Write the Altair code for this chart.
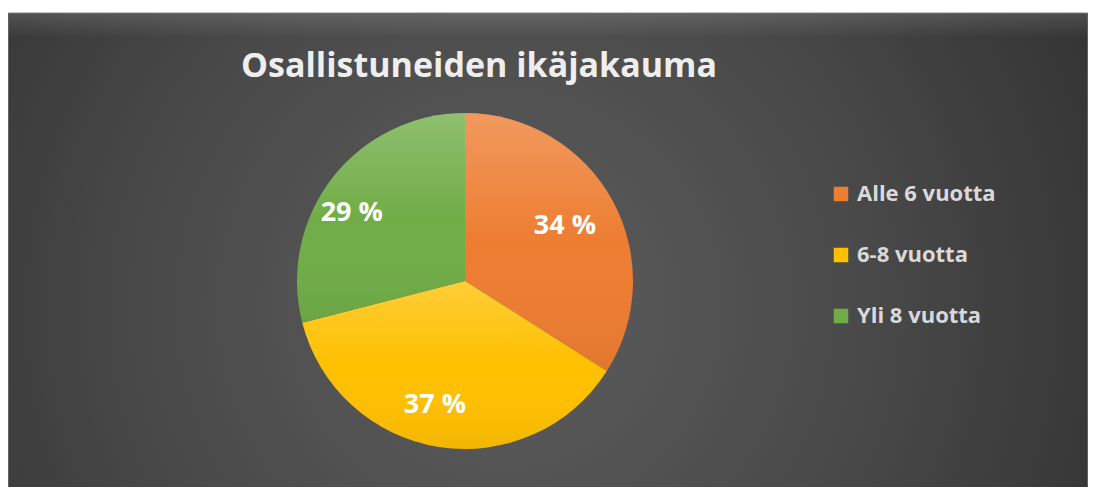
import altair as alt
import pandas as pd

# ---- data ----
categories = ["Alle 6 vuotta", "6-8 vuotta", "Yli 8 vuotta"]
shares = [34, 37, 29]
colors = ["#ED7D31", "#FFC000", "#70AD47"]
title_text = "Osallistuneiden ikäjakauma"

df = pd.DataFrame({
    "category": categories,
    "share": shares,
    "idx": list(range(len(categories))),
    "label": [f"{v} %" for v in shares],
})

W, H = 1080, 479
CX, CY = 457, 273
R = 168
FONT = "Open Sans"

# background panel with radial gradient
bg = alt.Chart(pd.DataFrame({"a": [0]})).mark_rect(
    fill=alt.RadialGradient(
        gradient="radial", x1=0.46, y1=0.55, r1=0, x2=0.46, y2=0.55, r2=0.72,
        stops=[alt.GradientStop(color="#5d5d5d", offset=0),
               alt.GradientStop(color="#4a4a4a", offset=0.45),
               alt.GradientStop(color="#2b2b2b", offset=1)]),
    stroke="#8a8a8a", strokeWidth=1,
).encode(x=alt.value(0), x2=alt.value(W), y=alt.value(5), y2=alt.value(H + 5))

# subtle bevel highlight along the top edge
bevel = alt.Chart(pd.DataFrame({"a": [0]})).mark_rect(
    fill=alt.LinearGradient(
        gradient="linear", x1=0, y1=0, x2=0, y2=1,
        stops=[alt.GradientStop(color="rgba(255,255,255,0.12)", offset=0),
               alt.GradientStop(color="rgba(255,255,255,0.0)", offset=1)]),
).encode(x=alt.value(1), x2=alt.value(W - 1), y=alt.value(6), y2=alt.value(30))

theta = alt.Theta("share:Q", stack=True)
order = alt.Order("idx:Q", sort="ascending")

arcs = alt.Chart(df).mark_arc(radius=R, strokeWidth=0).encode(
    theta=theta,
    order=order,
    color=alt.Color(
        "category:N",
        sort=categories,
        scale=alt.Scale(domain=categories, range=colors),
        legend=alt.Legend(
            title=None, orient="none", legendX=822, legendY=175,
            symbolType="square", symbolSize=210, symbolStrokeWidth=0,
            labelFont=FONT, labelFontSize=22, labelFontWeight="bold",
            labelColor="#d9d9d9", labelOffset=5, rowPadding=39, padding=0,
        ),
    ),
    x=alt.value(CX), y=alt.value(CY),
)

shine = alt.Chart(df).mark_arc(
    radius=R, strokeWidth=0,
    fill=alt.LinearGradient(
        gradient="linear", x1=0, y1=0, x2=0, y2=1,
        stops=[alt.GradientStop(color="rgba(255,255,255,0.22)", offset=0),
               alt.GradientStop(color="rgba(255,255,255,0.0)", offset=0.5),
               alt.GradientStop(color="rgba(0,0,0,0.05)", offset=1)]),
).encode(theta=theta, order=order, x=alt.value(CX), y=alt.value(CY))

label_base = alt.Chart(df).transform_joinaggregate(
    total="sum(share)"
).transform_window(
    cum="sum(share)", sort=[alt.SortField("idx")], frame=[None, 0]
).transform_calculate(
    mid="(datum.cum - datum.share / 2) / datum.total * 2 * PI"
)

placement = {
    "Alle 6 vuotta": (114, 0.0),
    "6-8 vuotta": (128, 0.08),
    "Yli 8 vuotta": (132, -0.12),
}

label_layers = []
for cat in categories:
    rad, off = placement[cat]
    label_layers.append(
        label_base.transform_filter(alt.datum.category == cat).mark_text(
            radius=rad, thetaOffset=off, font=FONT, fontSize=27,
            fontWeight="bold", color="#ffffff", align="center", baseline="middle",
        ).encode(
            theta=alt.Theta("mid:Q", scale=None, stack=False),
            text="label:N",
            x=alt.value(CX), y=alt.value(CY),
        )
    )

chart = alt.layer(bg, bevel, arcs, shine, *label_layers).properties(
    width=W, height=H,
    autosize=alt.AutoSizeParams(type="none"),
    padding=0,
    background="white",
    title=alt.TitleParams(
        text=title_text, anchor="middle", frame="group", dx=-69, dy=103,
        offset=0, baseline="alphabetic", font=FONT, fontSize=34,
        fontWeight="bold", color="#eeeeee",
    ),
).configure_view(strokeWidth=0)

chart.save("out.html", embed_options={"renderer": "svg", "actions": False})
